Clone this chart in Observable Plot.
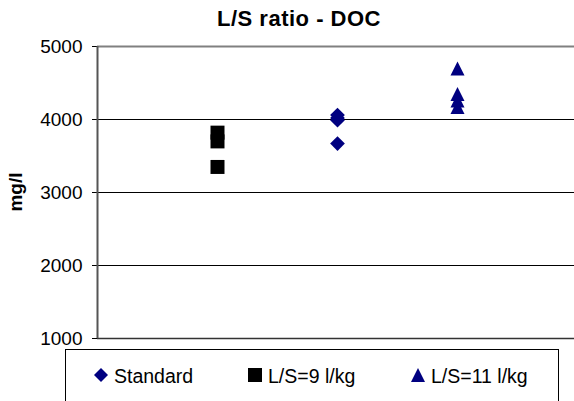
<!DOCTYPE html>
<html><head><meta charset="utf-8">
<script src="https://cdn.jsdelivr.net/npm/d3@7"></script>
<script src="https://cdn.jsdelivr.net/npm/@observablehq/plot@0.6"></script>
<style>
body{margin:0;background:#fff;font-family:Arial,"Liberation Sans",sans-serif}
#wrap{position:relative;width:574px;height:401px;overflow:hidden;background:#fff}
#title{position:absolute;left:0;top:6px;width:598px;text-align:center;font-weight:bold;font-size:22px;letter-spacing:0.5px;color:#000}
#ylabel{position:absolute;left:16px;top:192px;transform:translate(-50%,-50%) rotate(-90deg);font-weight:bold;font-size:19px;white-space:nowrap}
#legend{position:absolute;left:65px;top:349px;width:492px;height:70px;border:1px solid #000;background:#fff}
.item{position:absolute;top:15px;font-size:19.5px;line-height:22px;white-space:nowrap}
.item svg{position:absolute;left:-20px;top:3px}
</style></head>
<body><div id="wrap"><div id="chart"></div><div id="title"></div><div id="ylabel"></div><div id="legend"></div></div>
<script>
const chartTitle = "L/S ratio - DOC";
const yLabel = "mg/l";
const seriesNames = ["Standard", "L/S=9 l/kg", "L/S=11 l/kg"];
const seriesX = [2, 1, 3];
const standardValues = [4060, 4020, 3990, 3670];
const ls9Values = [3820, 3700, 3350];
const ls11Values = [4700, 4350, 4260, 4170];
const yTicks = [1000, 2000, 3000, 4000, 5000];
const seriesColors = ["#000080", "#000000", "#000080"];

const sq = {draw(c, size){const r = Math.sqrt(size/Math.PI); c.moveTo(-r,-r); c.lineTo(r,-r); c.lineTo(r,r); c.lineTo(-r,r); c.closePath();}};
const dm = {draw(c, size){const r = Math.sqrt(size/Math.PI)*1.05; c.moveTo(0,-r); c.lineTo(r,0); c.lineTo(0,r); c.lineTo(-r,0); c.closePath();}};
const tr = {draw(c, size){const r = Math.sqrt(size/Math.PI); c.moveTo(0,-r); c.lineTo(r,r); c.lineTo(-r,r); c.closePath();}};
const symbols = [dm, sq, tr];
const allValues = [standardValues, ls9Values, ls11Values];

const rows = [];
allValues.forEach((vals, i) => vals.forEach(v => rows.push({series: seriesNames[i], x: seriesX[i], y: v})));

const marks = [
  Plot.ruleY(yTicks.slice(1, -1), {stroke: "#000", strokeWidth: 1}),
  Plot.ruleY([yTicks[yTicks.length-1]], {stroke: "#808080", strokeWidth: 2}),
  Plot.ruleY([yTicks[0]], {stroke: "#333", strokeWidth: 1.5}),
  Plot.axisY({ticks: yTicks, tickSize: 5, tickPadding: 10, tickFormat: d => String(d), fontSize: 19, label: null, stroke: "#000"}),
  Plot.ruleX([0], {stroke: "#555", strokeWidth: 2})
];
seriesNames.forEach((name, i) => {
  marks.push(Plot.dot(rows.filter(d => d.series === name), {x: "x", y: "y", symbol: symbols[i], r: 7, fill: seriesColors[i], stroke: "none"}));
});

const plot = Plot.plot({
  width: 574, height: 401,
  marginTop: 46, marginBottom: 63, marginLeft: 97, marginRight: 0,
  style: {fontFamily: "Arial, 'Liberation Sans', sans-serif", fontSize: "19px", color: "#000", background: "#fff", overflow: "visible"},
  x: {domain: [0, 4], range: [97, 577], axis: null},
  y: {domain: [1000, 5000], label: null, axis: null},
  marks
});
document.getElementById("chart").appendChild(plot);
document.getElementById("title").textContent = chartTitle;
document.getElementById("ylabel").textContent = yLabel;

const legendLeft = [48, 202, 365];
const legendPaths = ["M7 0 L14 7 L7 14 L0 7Z", "M0 0H14V14H0Z", "M7 0 L14 14 L0 14Z"];
const legend = document.getElementById("legend");
seriesNames.forEach((name, i) => {
  const it = document.createElement("div");
  it.className = "item";
  it.style.left = legendLeft[i] + "px";
  it.innerHTML = `<svg width="15" height="15"><path d="${legendPaths[i]}" fill="${seriesColors[i]}"/></svg>`;
  it.appendChild(document.createTextNode(name));
  legend.appendChild(it);
});
</script></body></html>
